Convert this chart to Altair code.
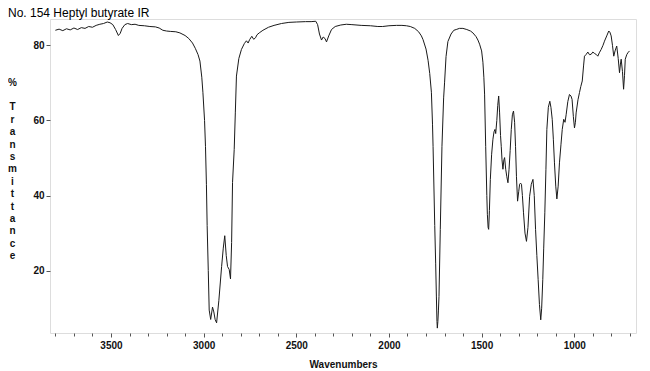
import altair as alt
import pandas as pd

# IR spectrum of heptyl butyrate
wavenumber = [
    3800, 3780, 3760, 3740, 3720, 3700, 3680, 3660, 3640, 3620, 3600, 3580, 3560, 3540, 3520,
    3505, 3490, 3475, 3460, 3450, 3440, 3425, 3410, 3390, 3370, 3350, 3320, 3290, 3260, 3240,
    3220, 3200, 3180, 3150, 3128, 3100, 3080, 3060, 3045, 3030, 3020, 3010, 3004, 2995, 2990,
    2985, 2981, 2975, 2970, 2962, 2952, 2945, 2938, 2930, 2918, 2903, 2894, 2886, 2878, 2871,
    2862, 2855, 2849, 2844, 2835, 2829, 2823, 2810, 2796, 2780, 2769, 2760, 2752, 2740, 2730,
    2720, 2712, 2700, 2680, 2650, 2620, 2580, 2540, 2500, 2450, 2420, 2395, 2385, 2375, 2364,
    2355, 2345, 2337, 2325, 2310, 2290, 2260, 2230, 2200, 2150, 2100, 2060, 2034, 2000, 1960,
    1930, 1906, 1885, 1861, 1840, 1825, 1816, 1800, 1789, 1780, 1771, 1765, 1762, 1753, 1748,
    1744, 1741, 1739, 1736, 1733, 1730, 1723, 1714, 1705, 1700, 1692, 1682, 1665, 1650, 1637,
    1620, 1601, 1580, 1560, 1547, 1530, 1520, 1511, 1500, 1493, 1488, 1484, 1478, 1472, 1469,
    1465, 1462, 1458, 1453, 1446, 1439, 1433, 1428, 1424, 1418, 1413, 1408, 1403, 1398, 1394,
    1390, 1385, 1380, 1376, 1370, 1364, 1358, 1352, 1346, 1340, 1334, 1328, 1322, 1317, 1312,
    1306, 1300, 1295, 1290, 1285, 1280, 1274, 1266, 1258, 1250, 1241, 1232, 1223, 1216, 1209,
    1202, 1195, 1188, 1181, 1176, 1170, 1165, 1159, 1153, 1148, 1140, 1132, 1126, 1119, 1113,
    1107, 1100, 1094, 1087, 1080, 1072, 1065, 1057, 1050, 1044, 1035, 1026, 1018, 1012, 1005,
    999, 994, 990, 980, 972, 965, 957, 950, 945, 937, 927, 918, 909, 900, 890,
    880, 873, 865, 855, 845, 837, 825, 814, 808, 801, 794, 787, 780, 771, 763,
    756, 751, 747, 740, 734, 729, 725, 717, 711, 702,
]
transmittance = [
    84.0, 84.3, 83.9, 84.4, 84.1, 84.6, 84.2, 84.7, 84.5, 85.0, 84.8, 85.3, 85.6, 85.8, 86.2,
    86.0, 85.5, 84.2, 82.6, 83.2, 84.5, 85.5, 85.8, 85.5, 85.6, 85.3, 85.2, 85.0, 84.9, 84.6,
    84.0, 83.8, 83.7, 83.6, 83.3, 82.6, 81.8, 80.6, 79.2, 77.5, 75.8, 71.5, 67.5, 60.0, 53.0,
    43.0, 32.0, 20.0, 9.5, 7.0, 10.3, 9.0, 7.0, 6.1, 12.0, 21.1, 26.0, 29.3, 24.0, 21.1,
    20.3, 17.8, 27.5, 43.5, 52.3, 62.0, 71.8, 76.5, 78.9, 80.5, 81.2, 80.6, 81.5, 82.4, 81.6,
    82.0, 82.8, 83.3, 84.0, 84.8, 85.3, 85.8, 86.1, 86.2, 86.3, 86.3, 86.4, 85.5, 83.0, 81.4,
    82.2, 81.8, 80.9, 82.5, 84.2, 85.0, 85.4, 85.6, 85.5, 85.3, 85.2, 85.0, 85.0, 85.2, 85.3,
    85.3, 85.2, 85.0, 84.5, 83.6, 82.5, 81.5, 79.0, 76.0, 72.5, 67.5, 59.0, 53.0, 32.0, 22.0,
    13.0, 6.5, 4.7, 6.5, 9.5, 13.1, 31.0, 53.1, 66.0, 70.0, 77.0, 81.0, 83.0, 84.0, 84.2,
    84.5, 84.5, 84.2, 83.8, 83.3, 82.3, 81.4, 80.3, 78.5, 75.5, 71.5, 67.0, 53.0, 40.0, 35.0,
    31.5, 31.0, 36.0, 44.3, 51.0, 55.0, 57.0, 57.6, 56.5, 60.0, 64.0, 66.5, 62.0, 56.0, 53.0,
    49.5, 47.0, 49.5, 50.1, 47.0, 45.0, 43.4, 47.0, 52.0, 57.6, 61.5, 62.5, 59.5, 53.0, 45.0,
    38.5, 41.0, 43.0, 43.3, 43.0, 40.0, 35.4, 30.0, 27.8, 31.5, 39.8, 43.0, 44.3, 40.0, 31.0,
    24.0, 17.6, 11.0, 6.9, 10.0, 17.6, 26.0, 35.4, 47.0, 57.6, 63.5, 65.1, 63.5, 60.3, 55.0,
    48.7, 42.5, 39.1, 42.5, 48.7, 53.5, 57.6, 60.3, 59.5, 61.5, 65.0, 66.9, 66.5, 65.6, 61.0,
    58.0, 59.5, 62.0, 65.5, 67.4, 69.0, 70.5, 74.5, 77.1, 77.5, 78.2, 77.5, 77.6, 78.2, 77.8,
    77.5, 77.1, 78.0, 78.9, 80.0, 81.1, 82.5, 83.8, 83.5, 82.5, 80.0, 77.1, 78.5, 79.8, 76.5,
    72.7, 75.0, 76.3, 73.0, 68.3, 72.0, 76.3, 77.5, 78.0, 78.5,
]

x_tick_values = list(range(3800, 600, -100))
y_tick_values = [20, 40, 60, 80]
y_title_lines = ["%", "\u200b", "T", "r", "a", "n", "s", "m", "i", "t", "t", "a", "n", "c", "e"]

df = pd.DataFrame({"wn": wavenumber, "t": transmittance})

FONT = "Liberation Sans"

chart = (
    alt.Chart(df)
    .mark_line(color="#1a1a1a", strokeWidth=1)
    .encode(
        x=alt.X(
            "wn:Q",
            scale=alt.Scale(domain=[667, 3829], reverse=True, nice=False, zero=False),
            axis=alt.Axis(
                values=x_tick_values,
                labelExpr="datum.value % 500 === 0 ? format(datum.value, 'd') : ''",
                labelOverlap=False,
                tickSize={"condition": {"test": "datum.value % 500 === 0", "value": 4}, "value": 3},
                tickColor="#555555",
                domain=False,
                grid=False,
                labelFont=FONT,
                labelFontSize=10,
                labelFontWeight="bold",
                labelColor="#111111",
                labelPadding=3,
                title="Wavenumbers",
                titleFont=FONT,
                titleFontSize=10,
                titleFontWeight="bold",
                titleColor="#111111",
                titlePadding=9,
            ),
        ),
        y=alt.Y(
            "t:Q",
            scale=alt.Scale(domain=[3.4, 87], nice=False, zero=False),
            axis=alt.Axis(
                values=y_tick_values,
                format="d",
                tickSize=4,
                tickColor="#555555",
                domain=False,
                grid=False,
                labelFont=FONT,
                labelFontSize=10,
                labelFontWeight="bold",
                labelColor="#111111",
                labelPadding=2,
                title=y_title_lines,
                titleAngle=0,
                titleAlign="center",
                titleBaseline="top",
                titleX=-38,
                titleY=58,
                titleLineHeight=12.4,
                titleFont=FONT,
                titleFontSize=10,
                titleFontWeight="bold",
                titleColor="#111111",
            ),
        ),
    )
    .properties(
        width=586,
        height=314,
        autosize=alt.AutoSizeParams(type="none"),
        padding={"left": 42, "top": 11, "right": 6, "bottom": 38},
        title=alt.TitleParams(
            "No. 154 Heptyl butyrate IR",
            orient="none",
            anchor="start",
            frame="group",
            dx=-42,
            dy=-2,
            baseline="alphabetic",
            font=FONT,
            fontSize=12,
            fontWeight="normal",
            color="#000000",
        ),
    )
    .configure_view(stroke="#7a7a7a", strokeWidth=1.5)
    .configure(background="white")
)

chart.save("out.html", embed_options={"renderer": "svg", "actions": False})
